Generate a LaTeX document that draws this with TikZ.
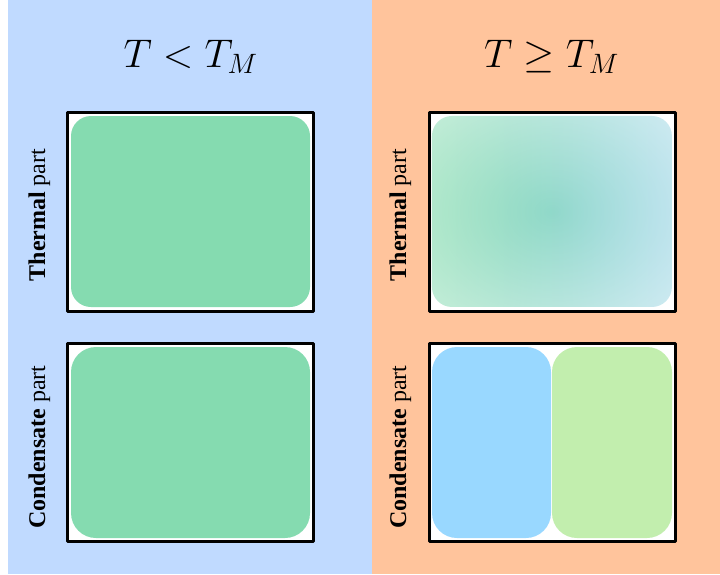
\documentclass[tikz,border=0pt]{standalone}
\usepackage{fix-cm}
\usepackage{fontspec}
\setmainfont{Liberation Serif}
\usetikzlibrary{fadings}

\definecolor{coldbg}{HTML}{C0DAFF}
\definecolor{hotbg}{HTML}{FFC49C}
\definecolor{mixgreen}{HTML}{85DBB0}
\definecolor{partblue}{HTML}{99D8FF}
\definecolor{partgreen}{HTML}{C2EEAE}
\definecolor{glowblue}{HTML}{9CD6E4}

\pgfdeclareradialshading{glowmask}{\pgfpointorigin}{color(0bp)=(pgftransparent!0); color(20bp)=(pgftransparent!28); color(50bp)=(pgftransparent!72); color(72bp)=(pgftransparent!82)}
\pgfdeclarefading{glow}{\pgfuseshading{glowmask}}

\tikzset{
  frame/.style={draw=black, line width=3pt, fill=white},
  blob/.style={rounded corners=20pt},
  fatblob/.style={rounded corners=25pt},
  partlabel/.style={rotate=90, anchor=base, font=\fontsize{24}{28}\selectfont},
  title/.style={anchor=base, font=\fontsize{40}{44}\selectfont}
}

\begin{document}
\begin{tikzpicture}[x=1pt, y=-1pt, line join=round]
  \useasboundingbox (0,0) rectangle (720,574);
  \path
  (67.5,112.5) coordinate (CTa) (313.5,311.5) coordinate (CTb)
  (67.5,343.5) coordinate (CCa) (313.5,541.5) coordinate (CCb)
  (429,112.5) coordinate (HTa) (675,311.5) coordinate (HTb)
  (429,343.5) coordinate (HCa) (675,541.5) coordinate (HCb)
  ;
  % backgrounds
  \fill[coldbg] (8,0) rectangle (372,574);
  \fill[hotbg] (372,0) rectangle (720,574);
  % titles
  \node[title] (cold title) at (190.5,67) {$T<T_M$};
  \node[title] (hot title) at (551.5,67) {$T\geq T_M$};
  % frames
  \draw[frame] (CTa) rectangle (CTb);
  \draw[frame] (CCa) rectangle (CCb);
  \draw[frame] (HTa) rectangle (HTb);
  \draw[frame] (HCa) rectangle (HCb);
  % T < T_M
  \fill[mixgreen, blob] (71,116) rectangle (310,307);
  \fill[mixgreen, fatblob] (71,347) rectangle (310,538);
  % T >= T_M
  \shade[left color=mixgreen, right color=glowblue, path fading=glow, blob] (432,116) rectangle (672,307);
  \fill[partblue, fatblob] (432,347) rectangle (551,538);
  \fill[partgreen, fatblob] (552,347) rectangle (672,538);
  % labels
  \node[partlabel] (cold thermal) at (45,215) {\textbf{Thermal} part};
  \node[partlabel] (cold condensate) at (45,447) {\textbf{Condensate} part};
  \node[partlabel] (hot thermal) at (406,215) {\textbf{Thermal} part};
  \node[partlabel] (hot condensate) at (406,447) {\textbf{Condensate} part};
\end{tikzpicture}
\end{document}
